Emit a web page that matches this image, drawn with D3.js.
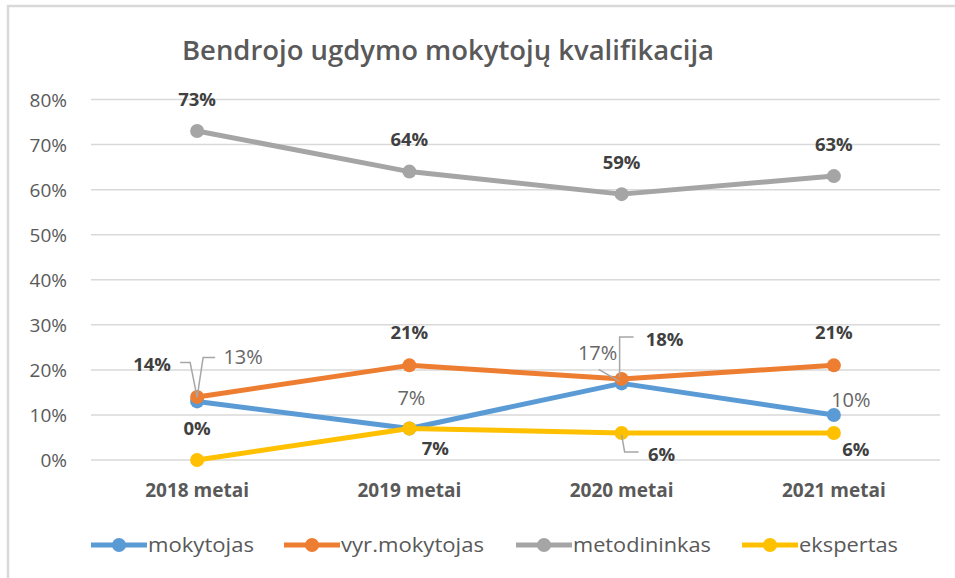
<!DOCTYPE html>
<html><head><meta charset="utf-8">
<script src="https://cdn.jsdelivr.net/npm/d3@7"></script>
<style>body{margin:0;background:#fff;}svg{display:block;}</style>
</head><body><svg id="c" width="955" height="578"></svg>
<script>
const categories = ["2018 metai","2019 metai","2020 metai","2021 metai"];
const seriesNames = ["mokytojas","vyr.mokytojas","metodininkas","ekspertas"];
const mokytojas = [13,7,17,10];
const vyrMokytojas = [14,21,18,21];
const metodininkas = [73,64,59,63];
const ekspertas = [0,7,6,6];
const yTicks = [0,10,20,30,40,50,60,70,80];
const colors = ["#5b9bd5","#ed7d31","#a5a5a5","#ffc000"];
const title = "Bendrojo ugdymo mokytojų kvalifikacija";

const seriesVals = [mokytojas, vyrMokytojas, metodininkas, ekspertas];
const svg = d3.select("#c");
const ff = "'Open Sans', sans-serif";

// frame
svg.append("path").attr("d","M8,578 V6 H955").attr("fill","none").attr("stroke","#d9d9d9").attr("stroke-width",2.5);

const x = d3.scaleBand().domain(categories).range([91,940]);
const y = d3.scaleLinear().domain([0,80]).range([460,99.5]);
const cx = c => x(c) + x.bandwidth()/2;

svg.append("text").attr("x",448).attr("y",60).attr("text-anchor","middle")
  .attr("font-family",ff).attr("font-weight","600").attr("font-size",27).attr("fill","#595959")
  .attr("textLength",532).attr("lengthAdjust","spacingAndGlyphs").text(title);

// grid
svg.append("g").selectAll("line").data(yTicks).join("line")
  .attr("x1",91).attr("x2",940).attr("y1",d=>y(d)).attr("y2",d=>y(d))
  .attr("stroke","#d9d9d9").attr("stroke-width",1.5);

// y labels
svg.append("g").selectAll("text").data(yTicks).join("text")
  .attr("x",67).attr("y",d=>y(d)+7).attr("text-anchor","end")
  .attr("font-family",ff).attr("font-size",19).attr("fill","#595959").text(d=>d+"%");

// x labels
svg.append("g").selectAll("text").data(categories).join("text")
  .attr("x",d=>cx(d)).attr("y",497).attr("text-anchor","middle")
  .attr("font-family",ff).attr("font-weight","bold").attr("font-size",19).attr("fill","#595959").text(d=>d);

const line = d3.line().x((d,i)=>cx(categories[i])).y(d=>y(d));
seriesVals.forEach((vals,si)=>{
  const g = svg.append("g");
  g.append("path").datum(vals).attr("d",line).attr("fill","none")
    .attr("stroke",colors[si]).attr("stroke-width",5).attr("stroke-linejoin","round");
  g.selectAll("circle").data(vals).join("circle")
    .attr("cx",(d,i)=>cx(categories[i])).attr("cy",d=>y(d)).attr("r",7).attr("fill",colors[si]);
});

// labels: [series, index, dx, dy(center), bold]
const labels = [
  [2,0,0,-32,true],[2,1,0,-32,true],[2,2,0,-32,true],[2,3,0,-32,true],
  [1,0,-45,-32,true],[1,1,0,-33,true],[1,2,43,-39,true],[1,3,0,-33,true],
  [0,0,46,-44,false],[0,1,2,-30,false],[0,2,-24,-30,false],[0,3,17,-15,false],
  [3,0,0,-32,true],[3,1,26,20,true],[3,2,40,22,true],[3,3,22,17,true]
];
const lg = svg.append("g");
const L = (pts)=>lg.append("path").attr("d",d3.line()(pts)).attr("fill","none").attr("stroke","#a6a6a6").attr("stroke-width",1.5);
const x0 = cx(categories[0]), y13 = y(13);
L([[x0-17,y13-39],[x0-7,y13-39],[x0,y13-4],[x0+6,y13-44],[x0+18,y13-44]]);
const x2 = cx(categories[2]);
L([[x2-23,y(17)-14],[x2-2,y(17)-2]]);
L([[x2-2,y(18)-2],[x2-2,y(18)-42],[x2+12,y(18)-42]]);
L([[x2,y(6)+2],[x2+3,y(6)+19],[x2+17,y(6)+19]]);

labels.forEach(([si,i,dx,dy,bold])=>{
  const v = seriesVals[si][i];
  lg.append("text").attr("x",cx(categories[i])+dx).attr("y",y(v)+dy+(bold?6.5:7))
    .attr("text-anchor","middle").attr("font-family",ff).attr("font-size",bold?18.5:20)
    .attr("font-weight",bold?"bold":"normal").attr("fill",bold?"#404040":"#666666").text(v+"%");
});

// legend
const legX = [91,284,516,742];
const legW = [106,143,138,99];
const leg = svg.append("g");
seriesNames.forEach((n,i)=>{
  const lx = legX[i];
  leg.append("line").attr("x1",lx).attr("x2",lx+56).attr("y1",545).attr("y2",545).attr("stroke",colors[i]).attr("stroke-width",5);
  leg.append("circle").attr("cx",lx+28).attr("cy",545).attr("r",7).attr("fill",colors[i]);
  leg.append("text").attr("x",lx+57).attr("y",552).attr("font-family",ff).attr("font-size",20).attr("fill","#595959")
    .attr("textLength",legW[i]).attr("lengthAdjust","spacingAndGlyphs").text(n);
});
</script></body></html>
